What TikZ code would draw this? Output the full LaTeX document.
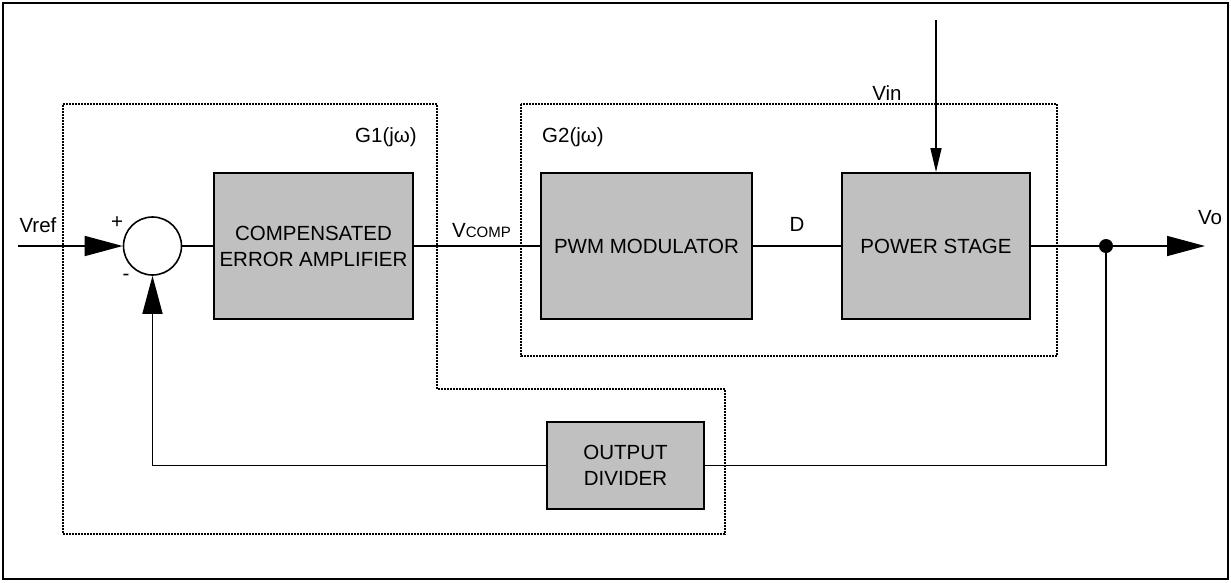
\documentclass[tikz,border=0pt]{standalone}
\usepackage{fontspec}
\setmainfont{Liberation Sans}
\usetikzlibrary{arrows.meta}
\definecolor{boxgray}{RGB}{192,192,192}
\begin{document}
\begin{tikzpicture}[x=1pt,y=-1pt,
  txt/.style={font=\fontsize{20.5}{26}\selectfont, inner sep=0pt},
  blk/.style={draw, line width=2pt, fill=boxgray, align=center, inner sep=0pt,
    font=\fontsize{20.5}{26}\selectfont},
  wire/.style={line width=1.6pt},
  dotbox/.style={line width=1.6pt, dash pattern=on 1.6pt off 1.4pt},
  bigarrow/.style={wire, -{Triangle[length=38pt,width=20pt]}},
  smallarrow/.style={wire, -{Triangle[length=24pt,width=11pt]}}]
\useasboundingbox (0,0) rectangle (1231,582);
\draw[line width=2.5pt] (3,3) rectangle (1228,579);

% dotted groups
\draw[dotbox] (63,104) -- (437,104) -- (437,389) -- (725,389) -- (725,534) -- (63,534) -- cycle;
\draw[dotbox] (521,104) rectangle (1057,356);

% blocks
\node[blk, minimum width=199pt, minimum height=146pt] (comp) at (313.5,246) {COMPENSATED\\ERROR AMPLIFIER};
\node[blk, minimum width=211pt, minimum height=146pt] (pwm) at (646.5,246) {PWM MODULATOR};
\node[blk, minimum width=188pt, minimum height=146pt] (pwr) at (936,246) {POWER STAGE};
\node[blk, minimum width=157pt, minimum height=87pt] (div) at (625.5,465.5) {OUTPUT\\DIVIDER};
\node[draw, wire, circle, minimum size=58pt, inner sep=0pt, fill=white] (sum) at (152.5,246) {};

% coordinates
\coordinate (vrefin) at (18,246);
\coordinate (voend) at (1205,246);
\coordinate (jn) at (1106,246);
\coordinate (fbcorner) at (1106,465.5);
\coordinate (vintop) at (936,20);

% connectors
\draw[bigarrow] (vrefin) -- (sum.west);
\draw[wire] (sum.east) -- (comp.west);
\draw[wire] (comp.east) -- (pwm.west);
\draw[wire] (pwm.east) -- (pwr.east -| pwr.west);
\draw[bigarrow] (pwr.east) -- (voend);
\draw[smallarrow] (vintop) -- (pwr.north);
\draw[wire] (jn) -- (fbcorner) -- (div.east);
\draw[bigarrow] (div.west) -| (sum.south);
\fill (jn) circle (7pt);

% labels
\node[txt] (lvref) at (38,225) {Vref};
\node[txt] (lplus) at (117,223) {+};
\node[txt] (lminus) at (126,277) {-};
\node[txt, anchor=east] (lg1) at (417,137) {G1(jω)};
\node[txt, anchor=west] (lg2) at (542,137) {G2(jω)};
\node[txt, anchor=base west] (lvcomp) at (452,237) {V{\fontsize{15}{18}\selectfont COMP}};
\node[txt] (ld) at (797,224) {D};
\node[txt] (lvin) at (887,93) {Vin};
\node[txt] (lvo) at (1210,218) {Vo};
\end{tikzpicture}
\end{document}
